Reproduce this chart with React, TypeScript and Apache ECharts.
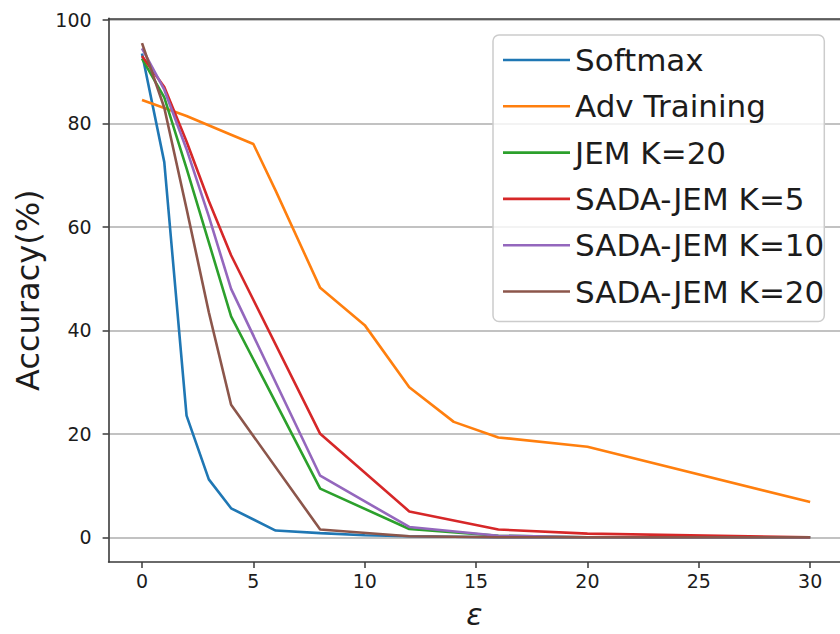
import React, { useEffect, useRef } from 'react';
import * as echarts from 'echarts';

const seriesNames = ['Softmax', 'Adv Training', 'JEM K=20', 'SADA-JEM K=5', 'SADA-JEM K=10', 'SADA-JEM K=20'];
const seriesColors = ['#1f77b4', '#ff7f0e', '#2ca02c', '#d62728', '#9467bd', '#8c564b'];

const xTicks = [0, 5, 10, 15, 20, 25, 30];
const yTicks = [0, 20, 40, 60, 80, 100];

const softmaxEps = [0, 1, 2, 3, 4, 6, 8, 10, 12, 16, 20, 30];
const softmaxAcc = [93.5, 72.5, 23.5, 11.2, 5.6, 1.3, 0.8, 0.4, 0.2, 0, 0, 0];

const advEps = [0, 2, 4, 5, 6, 8, 10, 12, 14, 16, 20, 30];
const advAcc = [84.5, 81.4, 77.8, 76, 67, 48.2, 41, 29, 22.3, 19.3, 17.5, 6.8];

const jemEps = [0, 1, 2, 3, 4, 8, 12, 16, 20, 30];
const jemAcc = [92.5, 85, 71.3, 57, 42.7, 9.4, 1.6, 0.3, 0, 0];

const sada5Eps = [0, 1, 2, 3, 4, 8, 12, 16, 20, 30];
const sada5Acc = [93, 87, 76.5, 65, 54.5, 20, 5, 1.5, 0.7, 0];

const sada10Eps = [0, 1, 2, 3, 4, 8, 12, 16, 20, 30];
const sada10Acc = [94.5, 86.5, 75, 62, 48, 11.9, 2.0, 0.3, 0, 0];

const sada20Eps = [0, 1, 2, 3, 4, 8, 12, 16, 20, 30];
const sada20Acc = [95.5, 83, 63.5, 43.5, 25.6, 1.5, 0.2, 0, 0, 0];

const allEps = [softmaxEps, advEps, jemEps, sada5Eps, sada10Eps, sada20Eps];
const allAcc = [softmaxAcc, advAcc, jemAcc, sada5Acc, sada10Acc, sada20Acc];

const FONT = 'DejaVu Sans';
const SPINE = '#3a3a3a';
const TEXT = '#1c1c1c';

export default function App() {
  const ref = useRef<HTMLDivElement>(null);

  useEffect(() => {
    if (!ref.current) return;
    const chart = echarts.init(ref.current, null, { renderer: 'svg' });

    const series = seriesNames.map((name, i) => ({
      type: 'line',
      name,
      data: allEps[i].map((e, j) => [e, allAcc[i][j]]),
      symbol: 'none',
      showSymbol: false,
      lineStyle: { width: 2.6, color: seriesColors[i] },
      itemStyle: { color: seriesColors[i] },
      emphasis: { disabled: true },
      z: 2 + i * 0.01,
    }));

    chart.setOption({
      animation: false,
      textStyle: { fontFamily: FONT },
      grid: { left: 108.6, right: 0, top: 18.4, bottom: 65, containLabel: false },
      legend: {
        orient: 'vertical',
        left: 493,
        top: 35,
        data: seriesNames,
        icon: 'rect',
        itemWidth: 67,
        itemHeight: 2.6,
        itemGap: 10.3,
        padding: [7, 0, 12, 10],
        backgroundColor: 'rgba(255,255,255,0.8)',
        borderColor: '#cccccc',
        borderWidth: 1.5,
        borderRadius: 6,
        selectedMode: false,
        textStyle: { fontSize: 31, lineHeight: 36, color: TEXT, fontFamily: FONT },
      },
      xAxis: [
        {
          type: 'value',
          min: -1.5,
          max: 31.34,
          position: 'bottom',
          z: 3,
          axisLine: { show: true, onZero: false, lineStyle: { color: SPINE, width: 1.6 } },
          axisTick: { show: true, inside: false, length: 6, lineStyle: { color: SPINE, width: 1.5 }, customValues: xTicks },
          axisLabel: { customValues: xTicks, fontSize: 19, color: TEXT, margin: 9, fontFamily: FONT },
          splitLine: { show: false },
          name: 'ε',
          nameLocation: 'middle',
          nameGap: 37,
          nameTextStyle: { fontSize: 30, fontStyle: 'italic', color: TEXT, fontFamily: FONT },
        },
        {
          type: 'value',
          min: -1.5,
          max: 31.34,
          position: 'top',
          z: 3,
          axisLine: { show: true, onZero: false, lineStyle: { color: SPINE, width: 1.6 } },
          axisTick: { show: false },
          axisLabel: { show: false },
          splitLine: { show: false },
        },
      ],
      yAxis: {
        type: 'value',
        min: -4.775,
        max: 100.275,
        splitNumber: 5,
        axisLine: { show: true, onZero: false, lineStyle: { color: SPINE, width: 1.6 } },
        axisTick: { show: true, inside: false, length: 6, lineStyle: { color: SPINE, width: 1.5 }, customValues: yTicks },
        axisLabel: { customValues: yTicks, fontSize: 19, color: TEXT, margin: 17, fontFamily: FONT },
        splitLine: { show: true, lineStyle: { color: '#c2c2c2', width: 1.8 } },
        name: 'Accuracy(%)',
        nameLocation: 'middle',
        nameGap: 64,
        nameTextStyle: { fontSize: 32, color: TEXT, fontFamily: FONT },
      },
      series,
    });

    return () => chart.dispose();
  }, []);

  return (
    <div
      ref={ref}
      style={{ position: 'fixed', left: 0, top: 0, width: 840, height: 634, background: '#ffffff' }}
    />
  );
}
